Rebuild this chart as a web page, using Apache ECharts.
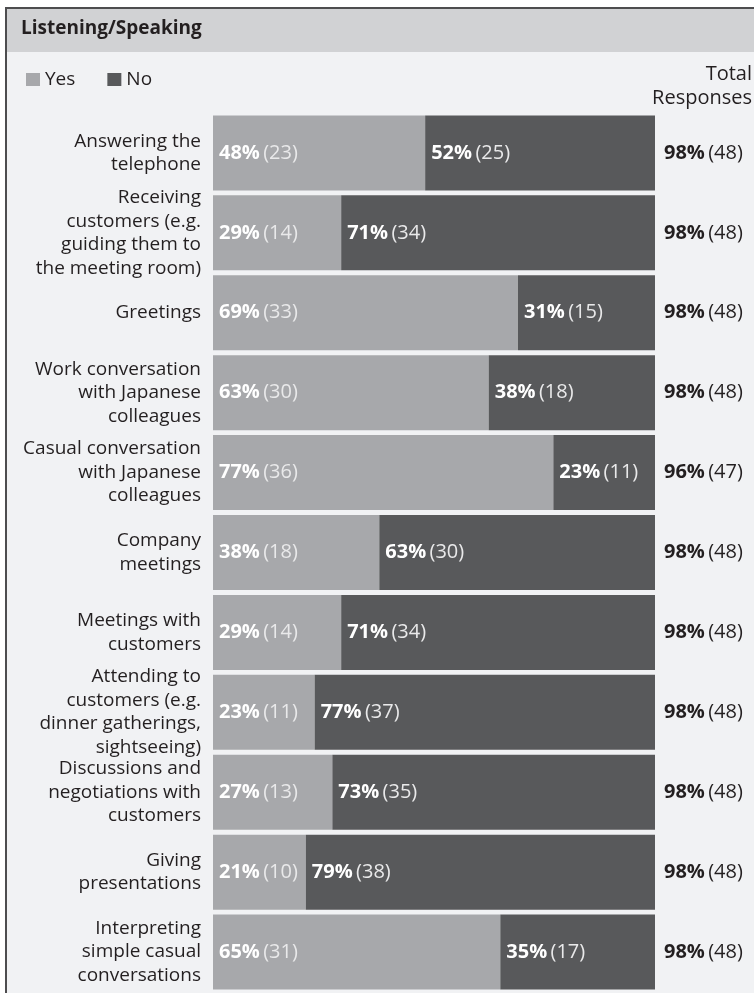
<!DOCTYPE html>
<html>
<head>
<meta charset="utf-8">
<script src="https://cdn.jsdelivr.net/npm/echarts@6/dist/echarts.min.js"></script>
<style>
  html, body { margin: 0; padding: 0; background: #ffffff; }
  #chart { width: 754px; height: 993px; }
</style>
</head>
<body>
<div id="chart"></div>
<script>
// Survey items (listening / speaking tasks)
const categories = [
  'Answering the\ntelephone',
  'Receiving\ncustomers (e.g.\nguiding them to\nthe meeting room)',
  'Greetings',
  'Work conversation\nwith Japanese\ncolleagues',
  'Casual conversation\nwith Japanese\ncolleagues',
  'Company\nmeetings',
  'Meetings with\ncustomers',
  'Attending to\ncustomers (e.g.\ndinner gatherings,\nsightseeing)',
  'Discussions and\nnegotiations with\ncustomers',
  'Giving\npresentations',
  'Interpreting\nsimple casual\nconversations'
];
const yesPct = [48, 29, 69, 63, 77, 38, 29, 23, 27, 21, 65];
const yesCount = [23, 14, 33, 30, 36, 18, 14, 11, 13, 10, 31];
const noPct = [52, 71, 31, 38, 23, 63, 71, 77, 73, 79, 35];
const noCount = [25, 34, 15, 18, 11, 30, 34, 37, 35, 38, 17];
const totalPct = [98, 98, 98, 98, 96, 98, 98, 98, 98, 98, 98];
const totalCount = [48, 48, 48, 48, 47, 48, 48, 48, 48, 48, 48];

const FONT = 'Open Sans';
const YES_COLOR = '#a7a8ab';
const NO_COLOR = '#58595b';
const TEXT = '#231f20';

// each row fills the full width: shares of the row's stated percentages
const yesShare = yesPct.map((v, i) => v / (v + noPct[i]) * 100);
const noShare = noPct.map((v, i) => v / (yesPct[i] + v) * 100);

const barLabel = (pcts, counts) => ({
  show: true,
  position: 'insideLeft',
  distance: 6,
  formatter: p => '{b|' + pcts[p.dataIndex] + '%} {n|(' + counts[p.dataIndex] + ')}',
  rich: {
    b: { fontFamily: FONT, fontSize: 20, fontWeight: 'bold', color: '#ffffff' },
    n: { fontFamily: FONT, fontSize: 20, color: '#e9e9ea' }
  }
});

const chart = echarts.init(document.getElementById('chart'), null, { renderer: 'canvas' });

chart.setOption({
  backgroundColor: '#ffffff',
  animation: false,
  graphic: [
    // panel background and frame
    { type: 'rect', z: -10, shape: { x: 6, y: 8, width: 760, height: 1000 },
      style: { fill: '#f1f2f4', stroke: '#4d4d4f', lineWidth: 2 } },
    // header band
    { type: 'rect', z: -9, shape: { x: 7, y: 9, width: 760, height: 43 },
      style: { fill: '#d1d2d4' } },
    { type: 'text', x: 21, y: 29,
      style: { text: 'Listening/Speaking', fontFamily: FONT, fontSize: 19, fontWeight: 'bold',
               fill: TEXT, verticalAlign: 'middle' } },
    { type: 'text', x: 752, y: 74,
      style: { text: 'Total', fontFamily: FONT, fontSize: 20, fill: TEXT,
               align: 'right', verticalAlign: 'middle' } },
    { type: 'text', x: 752, y: 98,
      style: { text: 'Responses', fontFamily: FONT, fontSize: 20, fill: TEXT,
               align: 'right', verticalAlign: 'middle' } }
  ],
  legend: {
    left: 26, top: 70, padding: 0,
    itemWidth: 14, itemHeight: 13, itemGap: 32,
    icon: 'rect',
    textStyle: { fontFamily: FONT, fontSize: 19, color: TEXT },
    data: ['Yes', 'No']
  },
  grid: { left: 213, right: 99, top: 113, height: 879, containLabel: false },
  xAxis: { type: 'value', min: 0, max: 100, show: false },
  yAxis: [
    {
      type: 'category', data: categories, inverse: true,
      axisLine: { show: false }, axisTick: { show: false },
      axisLabel: { fontFamily: FONT, fontSize: 19, color: TEXT, lineHeight: 23.5, margin: 12, align: 'right' }
    },
    {
      type: 'category', data: categories, inverse: true, position: 'right',
      axisLine: { show: false }, axisTick: { show: false },
      axisLabel: {
        margin: 9, align: 'left',
        formatter: (v, i) => '{b|' + totalPct[i] + '%} {n|(' + totalCount[i] + ')}',
        rich: {
          b: { fontFamily: FONT, fontSize: 20, fontWeight: 'bold', color: TEXT },
          n: { fontFamily: FONT, fontSize: 20, color: TEXT }
        }
      }
    }
  ],
  series: [
    { name: 'Yes', type: 'bar', stack: 'all', data: yesShare, barWidth: 75,
      itemStyle: { color: YES_COLOR }, label: barLabel(yesPct, yesCount) },
    { name: 'No', type: 'bar', stack: 'all', data: noShare, barWidth: 75,
      itemStyle: { color: NO_COLOR }, label: barLabel(noPct, noCount) }
  ]
});
</script>
</body>
</html>
